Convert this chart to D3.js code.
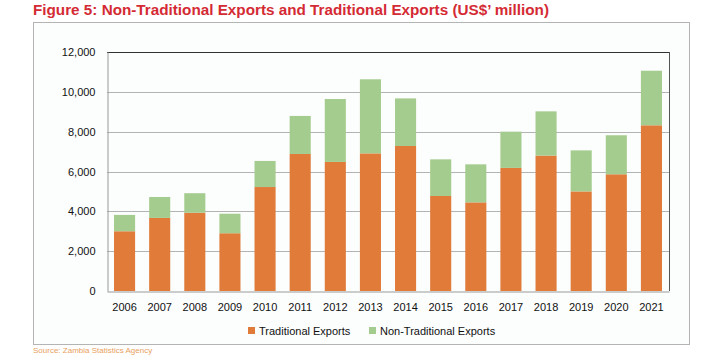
<!DOCTYPE html>
<html>
<head>
<meta charset="utf-8">
<script src="https://cdn.jsdelivr.net/npm/d3@7"></script>
<style>
  html, body { margin: 0; padding: 0; background: #ffffff; }
  svg { display: block; }
</style>
</head>
<body>
<svg id="chart" width="722" height="356"></svg>
<script>
const years = ["2006","2007","2008","2009","2010","2011","2012","2013","2014","2015","2016","2017","2018","2019","2020","2021"];
const traditional = [3000, 3670, 3930, 2900, 5220, 6880, 6480, 6910, 7280, 4770, 4450, 6180, 6800, 5000, 5860, 8320];
const nonTraditional = [820, 1050, 980, 980, 1310, 1910, 3160, 3720, 2390, 1840, 1910, 1820, 2220, 2060, 1960, 2740];
const yTicks = [0, 2000, 4000, 6000, 8000, 10000, 12000];
const seriesNames = ["Traditional Exports", "Non-Traditional Exports"];
const colors = ["#E07B39", "#A4CC8E"];

const svg = d3.select("#chart");

// Title
svg.append("text")
  .attr("x", 33).attr("y", 15)
  .attr("font-family", "Liberation Sans, Arial, sans-serif")
  .attr("font-weight", "bold")
  .attr("font-size", 14)
  .attr("fill", "#D42A34")
  .attr("textLength", 516)
  .attr("lengthAdjust", "spacingAndGlyphs")
  .text("Figure 5: Non-Traditional Exports and Traditional Exports (US$’ million)");

// Chart box
svg.append("rect")
  .attr("x", 33.5).attr("y", 22.5).attr("width", 656).attr("height", 322)
  .attr("fill", "#fcfdfd").attr("stroke", "#b4b4b4").attr("stroke-width", 1);

const x = d3.scaleBand().domain(years).range([107, 669]).paddingInner(0.4).paddingOuter(0.2);
const y = d3.scaleLinear().domain([0, 12000]).range([291, 52]);

// Gridlines
svg.append("g").selectAll("line")
  .data(yTicks.filter(t => t > 0 && t < 12000))
  .join("line")
  .attr("x1", 107).attr("x2", 669)
  .attr("y1", d => Math.round(y(d)) + 0.5).attr("y2", d => Math.round(y(d)) + 0.5)
  .attr("stroke", "#b3b3b3").attr("stroke-width", 1.2);

// top frame line and right border
svg.append("line").attr("x1", 107).attr("x2", 669.5)
  .attr("y1", Math.round(y(12000)) + 0.5).attr("y2", Math.round(y(12000)) + 0.5)
  .attr("stroke", "#333").attr("stroke-width", 1.2);
svg.append("line").attr("x1", 669.5).attr("x2", 669.5)
  .attr("y1", y(12000)).attr("y2", y(0))
  .attr("stroke", "#555").attr("stroke-width", 1);

// Stacked bars
const stackData = years.map((yr, i) => ({ year: yr, t: traditional[i], n: nonTraditional[i] }));
const stack = d3.stack().keys(["t", "n"])(stackData);
svg.append("g").selectAll("g")
  .data(stack)
  .join("g")
  .attr("fill", (d, i) => colors[i])
  .selectAll("rect")
  .data(d => d)
  .join("rect")
  .attr("x", d => x(d.data.year))
  .attr("width", x.bandwidth())
  .attr("y", d => y(d[1]))
  .attr("height", d => y(d[0]) - y(d[1]));

// Axes
const yAxis = d3.axisLeft(y).tickValues(yTicks).tickSize(0).tickPadding(12).tickFormat(d3.format(","));
const gy = svg.append("g").attr("transform", "translate(107.5,0)").call(yAxis);
gy.select(".domain").attr("stroke", "#9a9a9a");
gy.selectAll("text").attr("font-family", "Liberation Sans, Arial, sans-serif").attr("font-size", 11).attr("fill", "#111");

const xAxis = d3.axisBottom(x).tickSize(0).tickPadding(12);
const gx = svg.append("g").attr("transform", "translate(0,291.5)").call(xAxis);
gx.select(".domain").attr("stroke", "#9a9a9a");
gx.selectAll("text").attr("font-family", "Liberation Sans, Arial, sans-serif").attr("font-size", 11).attr("fill", "#111");

// Legend
const legend = svg.append("g");
const legendX = [248, 369];
seriesNames.forEach((name, i) => {
  legend.append("rect").attr("x", legendX[i]).attr("y", 327).attr("width", 7).attr("height", 7).attr("fill", colors[i]);
  legend.append("text").attr("x", legendX[i] + 11).attr("y", 335)
    .attr("font-family", "Liberation Sans, Arial, sans-serif").attr("font-size", 11).attr("fill", "#111")
    .text(name);
});

// Source
svg.append("text")
  .attr("x", 33).attr("y", 353)
  .attr("font-family", "Liberation Sans, Arial, sans-serif")
  .attr("font-size", 8)
  .attr("fill", "#E8A060")
  .text("Source: Zambia Statistics Agency");
</script>
</body>
</html>
